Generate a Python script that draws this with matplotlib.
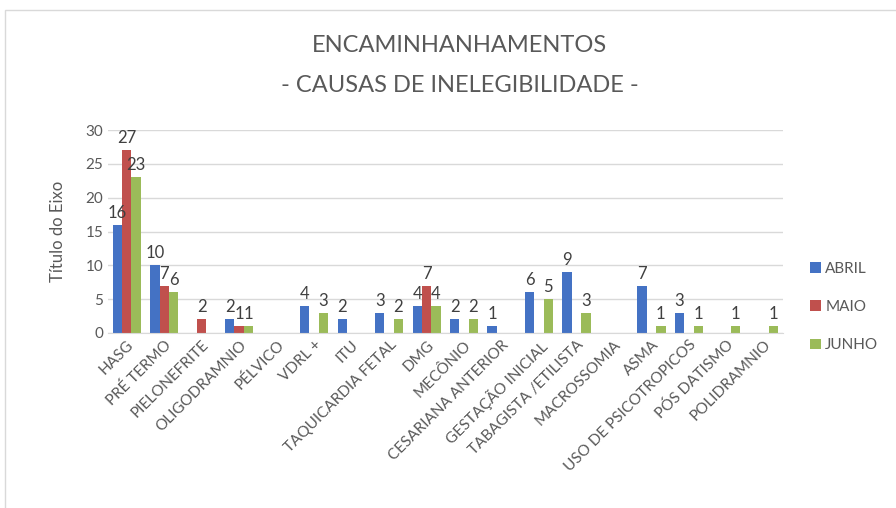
import numpy as np
import matplotlib
matplotlib.use("Agg")
import matplotlib.pyplot as plt
from matplotlib.patches import Rectangle

categorias = ["HASG", "PRÉ TERMO", "PIELONEFRITE", "OLIGODRAMNIO", "PÉLVICO",
              "VDRL +", "ITU", "TAQUICARDIA FETAL", "DMG", "MECÔNIO",
              "CESARIANA ANTERIOR", "GESTAÇÃO INICIAL", "TABAGISTA /ETILISTA",
              "MACROSSOMIA", "ASMA", "USO DE PSICOTROPICOS", "PÓS DATISMO",
              "POLIDRAMNIO"]
nan = np.nan
abril = [16, 10, nan, 2, nan, 4, 2, 3, 4, 2, 1, 6, 9, nan, 7, 3, nan, nan]
maio = [27, 7, 2, 1, nan, nan, nan, nan, 7, nan, nan, nan, nan, nan, nan, nan, nan, nan]
junho = [23, 6, nan, 1, nan, 3, nan, 2, 4, 2, nan, 5, 3, nan, 1, 1, 1, 1]
series = [("ABRIL", abril, "#4472C4"), ("MAIO", maio, "#C0504D"), ("JUNHO", junho, "#9BBB59")]

plt.rcParams['font.family'] = ['Lato', 'DejaVu Sans']
cinza = "#595959"

fig = plt.figure(figsize=(8.96, 5.08), dpi=100)
ax = fig.add_axes([0.1205, 0.3445, 0.753, 0.3995])

x = np.arange(len(categorias))
w = 0.25
for i, (nome, vals, cor) in enumerate(series):
    pos = x + (i - 1) * w
    v = np.array(vals, dtype=float)
    bars = ax.bar(pos, np.nan_to_num(v), width=w, color=cor, label=nome)
    for p, val in zip(pos, v):
        if not np.isnan(val):
            ax.text(p, val + 0.6, f"{int(val)}", ha="center", va="bottom",
                    fontsize=12, color="#404040")

ax.set_xlim(-0.5, len(categorias) - 0.5)
ax.set_ylim(0, 30)
ax.set_yticks(range(0, 31, 5))
ax.yaxis.grid(True, color="#D9D9D9", linewidth=1)
ax.set_axisbelow(True)
for s in ["top", "right", "left"]:
    ax.spines[s].set_visible(False)
ax.spines["bottom"].set_color("#D9D9D9")
ax.tick_params(axis="both", length=0, colors=cinza, labelsize=11)
ax.set_xticks(x)
ax.set_xticklabels(categorias, rotation=45, ha="right", rotation_mode="anchor")
ax.set_ylabel("Título do Eixo", color=cinza, fontsize=12, labelpad=14)

fig.text(0.513, 0.91, "ENCAMINHANHAMENTOS", ha="center", va="center",
         fontsize=17, color=cinza)
fig.text(0.513, 0.832, "- CAUSAS DE INELEGIBILIDADE -", ha="center", va="center",
         fontsize=17, color=cinza)

ax.legend(loc="upper left", bbox_to_anchor=(1.02, 0.42), frameon=False,
          fontsize=11, labelcolor=cinza, handlelength=0.7, handleheight=0.7,
          labelspacing=1.6, handletextpad=0.3)

fig.patches.append(Rectangle((0.006, -0.02), 1.1, 1.0, transform=fig.transFigure,
                             fill=False, edgecolor="#D9D9D9", linewidth=1))

fig.savefig("out.png", dpi=100)
